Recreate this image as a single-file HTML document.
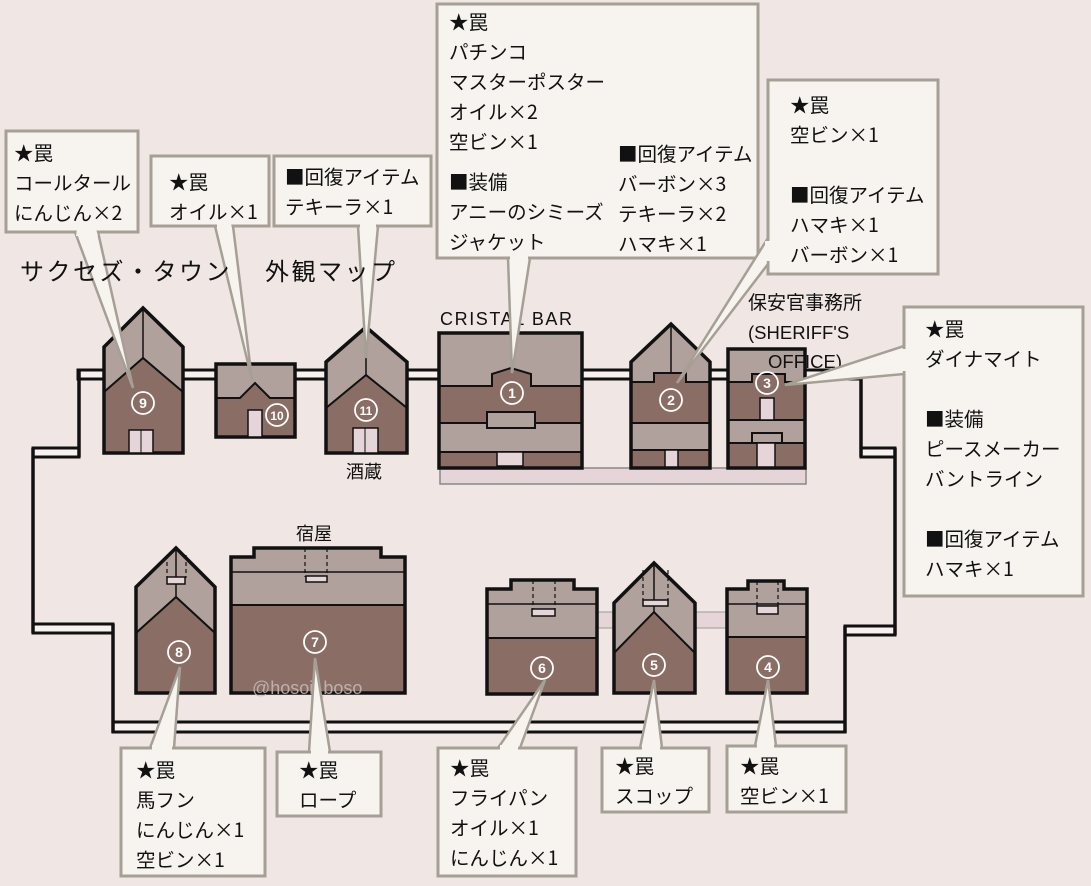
<!DOCTYPE html>
<html><head><meta charset="utf-8"><style>
body{margin:0;background:#f0e6e4;}
svg{display:block}
text{font-family:"Liberation Sans","Noto Sans CJK JP",sans-serif;fill:#111;}
.b text{font-size:19.5px;font-family:"Noto Sans CJK JP",sans-serif}
.bx{fill:#f7f4ef;stroke:#a59f96;stroke-width:3}
.w{fill:#f7f4ef;stroke:#a59f96;stroke-width:2.5}
.wf{fill:#f7f4ef;stroke:none}
.g{fill:#b0a19d;stroke:#111;stroke-width:2}
.br{fill:#8a6e66;stroke:#111;stroke-width:2}
.o{fill:none;stroke:#111;stroke-width:3.5}
.p{fill:#e6d5d8;stroke:#111;stroke-width:1.5}
.c{fill:none;stroke:#fff;stroke-width:1.8}
.n{fill:#fff;font-size:14px;font-weight:bold;text-anchor:middle}
.d{stroke:#111;stroke-width:1.2;stroke-dasharray:4 3;fill:none}
</style></head><body>
<svg width="1091" height="886" viewBox="0 0 1091 886">
<rect width="1091" height="886" fill="#f0e6e4"/>
<g fill="#f7f2f0" stroke="#111" stroke-width="3">
<rect x="78" y="370" width="783" height="9"/>
<rect x="33" y="448" width="46" height="9"/>
<rect x="861" y="448" width="34" height="9"/>
<rect x="33" y="624" width="80" height="9"/>
<rect x="845" y="626" width="50" height="9"/>
<rect x="113" y="722" width="732" height="10"/>
</g>
<g stroke="#111" stroke-width="3.5" fill="none">
<path d="M79 370V457M33 448V633M113 624V733M861 372V457M895 448V635M845 626V733"/>
</g>
<rect x="440" y="468" width="366" height="16" fill="#e6d5d8" stroke="#888" stroke-width="1.5"/>
<rect x="597" y="612" width="17" height="16" fill="#e6d5d8" stroke="#999"/>
<rect x="695" y="612" width="33" height="16" fill="#e6d5d8" stroke="#999"/>

<polygon class="g" points="104,347 143,308 183,347 183,453 104,453"/>
<line x1="143" y1="308" x2="143" y2="358" stroke="#111" stroke-width="1.5"/>
<polygon class="br" points="104,392 143,358 183,392 183,453 104,453"/>
<polygon class="o" points="104,347 143,308 183,347 183,453 104,453"/>
<rect class="p" x="129" y="430" width="24" height="23"/><line x1="141" y1="430" x2="141" y2="453" stroke="#111"/>
<circle class="c" cx="143" cy="403" r="11"/><text class="n" x="143" y="408">9</text>
<rect class="g" x="216" y="364" width="79" height="73"/>
<polygon class="br" points="216,398 240,398 255,383 270,398 295,398 295,437 216,437"/>
<rect class="o" x="216" y="364" width="79" height="73"/>
<rect class="p" x="248" y="410" width="14" height="27"/>
<circle class="c" cx="277" cy="415" r="11"/><text class="n" x="277" y="420" style="font-size:12px">10</text>
<polygon class="g" points="326,362 366,327 407,362 407,453 326,453"/>
<line x1="366" y1="327" x2="366" y2="375" stroke="#111" stroke-width="1.5"/>
<polygon class="br" points="326,408 366,375 407,408 407,453 326,453"/>
<polygon class="o" points="326,362 366,327 407,362 407,453 326,453"/>
<rect class="p" x="353" y="428" width="25" height="25"/><line x1="365" y1="428" x2="365" y2="453" stroke="#111"/>
<circle class="c" cx="366" cy="410" r="11"/><text class="n" x="366" y="415" style="font-size:12px">11</text>
<text x="346" y="478" style="font-size:18px">酒蔵</text>
<rect class="g" x="439" y="333" width="143" height="135"/>
<polygon class="br" points="439,386 492,386 492,374 511,368 531,374 531,386 582,386 582,423 439,423"/>
<rect class="br" x="439" y="452" width="143" height="16"/>
<rect class="g" x="487" y="412" width="48" height="16"/>
<rect class="p" x="497" y="452" width="26" height="14"/>
<rect class="o" x="439" y="333" width="143" height="135"/>
<circle class="c" cx="512" cy="393" r="11"/><text class="n" x="512" y="398">1</text>
<text x="440" y="325" style="font-size:18px;letter-spacing:1.6px">CRISTAL BAR</text>
<polygon class="g" points="631,362 671,324 710,362 710,468 631,468"/>
<line x1="671" y1="324" x2="671" y2="373" stroke="#111" stroke-width="1.5"/>
<polygon class="br" points="631,382 654,382 654,373 686,373 686,382 710,382 710,423 631,423"/>
<rect class="br" x="631" y="450" width="79" height="18"/>
<rect class="p" x="665" y="450" width="13" height="18"/>
<polygon class="o" points="631,362 671,324 710,362 710,468 631,468"/>
<circle class="c" cx="671" cy="400" r="11"/><text class="n" x="671" y="405">2</text>
<rect class="g" x="728" y="349" width="77" height="119"/>
<polygon class="br" points="728,382 752,382 752,374 785,374 785,382 805,382 805,420 728,420"/>
<rect class="br" x="728" y="443" width="77" height="25"/>
<rect class="p" x="760" y="398" width="14" height="22"/>
<rect class="g" x="752" y="433" width="30" height="10"/>
<rect class="p" x="757" y="443" width="18" height="25"/>
<rect class="o" x="728" y="349" width="77" height="119"/>
<circle class="c" cx="767" cy="383" r="11"/><text class="n" x="767" y="388">3</text>
<text x="748" y="309" style="font-size:19px">保安官事務所</text>
<text x="748" y="339" style="font-size:18.5px">(SHERIFF'S</text>
<text x="768" y="368" style="font-size:18.5px">OFFICE)</text>

<polygon class="g" points="136,587 176,548 215,587 215,693 136,693"/>
<line x1="176" y1="548" x2="176" y2="597" stroke="#111" stroke-width="1.5"/>
<path class="d" d="M167 555V578M186 555V578"/><rect class="p" x="167" y="577" width="18" height="7"/>
<polygon class="br" points="136,633 176,597 215,633 215,693 136,693"/>
<polygon class="o" points="136,587 176,548 215,587 215,693 136,693"/>
<circle class="c" cx="179" cy="652" r="11"/><text class="n" x="179" y="657">8</text>
<polygon class="g" points="231,557 254,557 254,548 381,548 381,557 405,557 405,693 231,693"/>
<line x1="231" y1="572" x2="405" y2="572" stroke="#111" stroke-width="1.5"/>
<rect class="br" x="231" y="605" width="174" height="88"/>
<path class="d" d="M305 548V577M327 548V577"/><rect class="p" x="306" y="576" width="21" height="6"/>
<polygon class="o" points="231,557 254,557 254,548 381,548 381,557 405,557 405,693 231,693"/>
<circle class="c" cx="315" cy="642" r="11"/><text class="n" x="315" y="647">7</text>
<text x="296" y="540" style="font-size:18px">宿屋</text>
<text x="252" y="694" style="font-size:18px;fill:#c8bcb9;opacity:.85">@hosoi_boso</text>
<polygon class="g" points="487,589 511,589 511,580 574,580 574,589 597,589 597,694 487,694"/>
<line x1="487" y1="604" x2="597" y2="604" stroke="#111" stroke-width="1.5"/>
<rect class="br" x="487" y="638" width="110" height="56"/>
<path class="d" d="M533 580V609M555 580V609"/><rect class="p" x="532" y="609" width="23" height="7"/>
<polygon class="o" points="487,589 511,589 511,580 574,580 574,589 597,589 597,694 487,694"/>
<circle class="c" cx="542" cy="668" r="11"/><text class="n" x="542" y="673">6</text>
<polygon class="g" points="614,603 654,563 695,603 695,693 614,693"/>
<line x1="654" y1="563" x2="654" y2="612" stroke="#111" stroke-width="1.5"/>
<path class="d" d="M643 570V600M668 570V600"/><rect class="p" x="643" y="600" width="25" height="6"/>
<polygon class="br" points="614,653 654,612 695,653 695,693 614,693"/>
<polygon class="o" points="614,603 654,563 695,603 695,693 614,693"/>
<circle class="c" cx="654" cy="665" r="11"/><text class="n" x="654" y="670">5</text>
<polygon class="g" points="727,589 748,589 748,581 784,581 784,589 807,589 807,693 727,693"/>
<line x1="727" y1="604" x2="807" y2="604" stroke="#111" stroke-width="1.5"/>
<rect class="br" x="727" y="637" width="80" height="56"/>
<path class="d" d="M757 581V606M778 581V606"/><rect class="p" x="757" y="606" width="21" height="8"/>
<polygon class="o" points="727,589 748,589 748,581 784,581 784,589 807,589 807,693 727,693"/>
<circle class="c" cx="768" cy="667" r="11"/><text class="n" x="768" y="672">4</text>

<g class="b">
<rect class="bx" x="6" y="131" width="132" height="101"/>
<rect class="bx" x="151" y="156" width="118" height="70"/>
<rect class="bx" x="274" y="156" width="157" height="70"/>
<rect class="bx" x="437" y="4" width="321" height="254"/>
<rect class="bx" x="768" y="80" width="170" height="194"/>
<rect class="bx" x="904" y="307" width="179" height="289"/>
<rect class="bx" x="121" y="748" width="144" height="128"/>
<rect class="bx" x="277" y="752" width="104" height="64"/>
<rect class="bx" x="438" y="748" width="138" height="128"/>
<rect class="bx" x="602" y="748" width="107" height="64"/>
<rect class="bx" x="727" y="746" width="119" height="66"/>
</g>
<g>
<polygon class="w" points="75,232 98,232 133,388"/>
<polygon class="w" points="215,226 233,226 252,380"/>
<polygon class="w" points="358,226 378,226 366,358"/>
<polygon class="w" points="508,258 530,258 512,373"/>
<polygon class="w" points="768,238 768,264 677,383"/>
<polygon class="w" points="904,346 904,374 785,385"/>
<polygon class="w" points="150,748 174,748 180,667"/>
<polygon class="w" points="309,752 330,752 315,658"/>
<polygon class="w" points="498,748 520,748 545,680"/>
<polygon class="w" points="640,748 662,748 654,680"/>
<polygon class="w" points="755,746 776,746 768,680"/>
<!-- hide base lines -->
<polygon class="wf" points="77,229 96,229 98,236 76,236"/>
<polygon class="wf" points="217,223 231,223 232,229 217,229"/>
<polygon class="wf" points="360,223 376,223 376,229 360,229"/>
<polygon class="wf" points="510,255 528,255 528,261 510,261"/>
<polygon class="wf" points="765,241 771,241 771,261 765,261"/>
<polygon class="wf" points="901,349 907,349 907,371 901,371"/>
<polygon class="wf" points="152,745 172,745 172,751 152,751"/>
<polygon class="wf" points="311,749 328,749 328,755 311,755"/>
<polygon class="wf" points="500,745 518,745 518,751 500,751"/>
<polygon class="wf" points="642,745 660,745 660,751 642,751"/>
<polygon class="wf" points="757,743 774,743 774,749 757,749"/>
</g>
<g class="b">
<text x="14" y="160">★罠</text><text x="14" y="190">コールタール</text><text x="14" y="220">にんじん×2</text>
<text x="169" y="189">★罠</text><text x="169" y="219">オイル×1</text>
<text x="285" y="184">■回復アイテム</text><text x="285" y="214">テキーラ×1</text>
<text x="449" y="29">★罠</text><text x="449" y="59">パチンコ</text><text x="449" y="89">マスターポスター</text><text x="449" y="119">オイル×2</text><text x="449" y="149">空ビン×1</text>
<text x="449" y="189">■装備</text><text x="449" y="219">アニーのシミーズ</text><text x="449" y="249">ジャケット</text>
<text x="618" y="161">■回復アイテム</text><text x="618" y="191">バーボン×3</text><text x="618" y="221">テキーラ×2</text><text x="618" y="251">ハマキ×1</text>
<text x="790" y="112">★罠</text><text x="790" y="142">空ビン×1</text><text x="790" y="202">■回復アイテム</text><text x="790" y="232">ハマキ×1</text><text x="790" y="262">バーボン×1</text>
<text x="925" y="336">★罠</text><text x="925" y="366">ダイナマイト</text><text x="925" y="426">■装備</text><text x="925" y="456">ピースメーカー</text><text x="925" y="486">バントライン</text><text x="925" y="546">■回復アイテム</text><text x="925" y="576">ハマキ×1</text>
<text x="136" y="777">★罠</text><text x="136" y="807">馬フン</text><text x="136" y="837">にんじん×1</text><text x="136" y="867">空ビン×1</text>
<text x="299" y="777">★罠</text><text x="299" y="807">ロープ</text>
<text x="450" y="775">★罠</text><text x="450" y="805">フライパン</text><text x="450" y="835">オイル×1</text><text x="450" y="865">にんじん×1</text>
<text x="615" y="773">★罠</text><text x="615" y="803">スコップ</text>
<text x="740" y="773">★罠</text><text x="740" y="803">空ビン×1</text>
</g>
<text x="20" y="280" style="font-size:24px;letter-spacing:2.5px">サクセズ・タウン</text>
<text x="265" y="280" style="font-size:24px;letter-spacing:2.5px">外観マップ</text>
</svg>
</body></html>
